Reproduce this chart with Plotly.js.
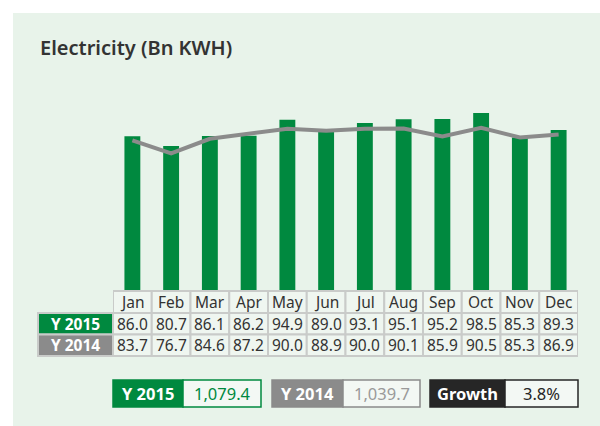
<!DOCTYPE html>
<html>
<head>
<meta charset="utf-8">
<script src="https://cdn.plot.ly/plotly-3.0.1.min.js"></script>
<style>html,body{margin:0;padding:0;background:#fff}#chart{width:600px;height:426px}</style>
</head>
<body>
<div id="chart"></div>
<script>
var months = ['Jan','Feb','Mar','Apr','May','Jun','Jul','Aug','Sep','Oct','Nov','Dec'];
var y2015 = [86.0,80.7,86.1,86.2,94.9,89.0,93.1,95.1,95.2,98.5,85.3,89.3];
var y2014 = [83.7,76.7,84.6,87.2,90.0,88.9,90.0,90.1,85.9,90.5,85.3,86.9];
var seriesLabels = ['Y 2015','Y 2014'];
var totals = ['1,079.4','1,039.7'];
var growthLabel = 'Growth';
var growthValue = '3.8%';

var GREEN = '#00893f', GREY = '#8b8b8b', DARK = '#262626';
var PANEL = '#e8f3ea', CELL = '#eff6f0', BORDER = '#c9cbc9', TXT = '#333333';
var FONT = 'Noto Sans';

var W = 600, H = 426, ML = 113, MR = 22, MT = 60, MB = 135;
var PW = W - ML - MR, PH = H - MT - MB;
function px(x){ return (x - ML) / PW; }
function py(y){ return (H - MB - y) / PH; }

var idx = months.map(function(m,i){return i;});
var shapes = [], ann = [];

function text(xref, x, y, t, size, color){
  ann.push({xref:xref, yref:'paper', x:x, y:y, text:t, showarrow:false, xanchor:'center', yanchor:'middle',
    font:{family:FONT, size:size, color:color}});
}

// panel background
shapes.push({type:'rect', xref:'paper', yref:'paper', x0:px(13), x1:px(600), y0:py(13), y1:py(426),
  fillcolor:PANEL, line:{width:0}, layer:'below'});

// table rows
var rows = [[291,313],[313,334.5],[334.5,356]];
function mid(r){ return py((r[0]+r[1])/2); }
function cell(x0,x1,yr,fill,lc,xref){
  shapes.push({type:'rect', xref:xref||'x', yref:'paper', x0:x0, x1:x1, y0:py(yr[0]), y1:py(yr[1]),
    fillcolor:fill, line:{color:lc, width:2}, layer:'above'});
}
idx.forEach(function(i){
  rows.forEach(function(r){ cell(i-0.5, i+0.5, r, CELL, BORDER); });
  text('x', i, mid(rows[0]), months[i], 15.5, TXT);
  text('x', i, mid(rows[1]), y2015[i].toFixed(1), 15.5, TXT);
  text('x', i, mid(rows[2]), y2014[i].toFixed(1), 15.5, TXT);
});
// row labels
[[rows[1],GREEN,seriesLabels[0]],[rows[2],GREY,seriesLabels[1]]].forEach(function(d){
  cell(px(38), px(113), d[0], d[1], BORDER, 'paper');
  text('paper', px(75.5), mid(d[0]), '<b>'+d[2]+'</b>', 15.5, '#ffffff');
});

// bottom summary boxes
var by = [380, 407];
var boxes = [
  [113,183,261,GREEN,seriesLabels[0],totals[0],GREEN],
  [272,343,420,GREY,seriesLabels[1],totals[1],'#9a9a9a'],
  [430,505,578,DARK,growthLabel,growthValue,DARK]
];
boxes.forEach(function(b){
  shapes.push({type:'rect', xref:'paper', yref:'paper', x0:px(b[0]), x1:px(b[1]), y0:py(by[0]), y1:py(by[1]),
    fillcolor:b[3], line:{color:b[3], width:1.5}, layer:'above'});
  shapes.push({type:'rect', xref:'paper', yref:'paper', x0:px(b[1]), x1:px(b[2]), y0:py(by[0]), y1:py(by[1]),
    fillcolor:'#f3f8f4', line:{color:b[3], width:1.5}, layer:'above'});
  text('paper', px((b[0]+b[1])/2), mid(by), '<b>'+b[4]+'</b>', 16.5, '#ffffff');
  text('paper', px((b[1]+b[2])/2), mid(by), b[5], 16.5, b[6]);
});

var traces = [
  {type:'bar', x:idx, y:y2015, width:0.41, marker:{color:GREEN, line:{width:0}}, hoverinfo:'skip'},
  {type:'scatter', mode:'lines', x:idx, y:y2014, line:{color:GREY, width:4}, hoverinfo:'skip'}
];

var layout = {
  width:W, height:H,
  margin:{l:ML, r:MR, t:MT, b:MB, pad:0},
  paper_bgcolor:'#ffffff', plot_bgcolor:'rgba(0,0,0,0)',
  showlegend:false,
  title:{text:'Electricity (Bn KWH)', x:40/W, xanchor:'left', xref:'container', y:1-48/H, yanchor:'middle',
    font:{family:FONT, size:20, color:TXT, weight:600}},
  xaxis:{range:[-0.5,11.5], showgrid:false, zeroline:false, showticklabels:false, showline:false, fixedrange:true},
  yaxis:{range:[2.48,127.08], showgrid:false, zeroline:false, showticklabels:false, showline:false, fixedrange:true},
  shapes:shapes, annotations:ann
};
Plotly.newPlot('chart', traces, layout, {displayModeBar:false, staticPlot:true});
</script>
</body>
</html>
